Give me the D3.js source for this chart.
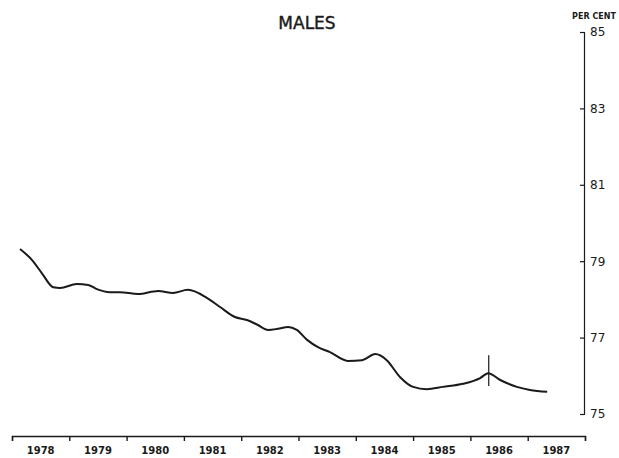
<!DOCTYPE html>
<html lang="en">
<head>
    <style>
        body { margin: 0; background: #fff; }
        svg { width: 619px; height: 458px; display: block; }
    </style>
</head>
<body>
    <svg></svg>
    <script src="https://cdn.jsdelivr.net/npm/d3@7"></script>
    <script>
        // Data (decimal year, per cent)
        const years = [1978, 1979, 1980, 1981, 1982, 1983, 1984, 1985, 1986, 1987];
        const times = [1978.14, 1978.35, 1978.52, 1978.72, 1978.84, 1979.13, 1979.33, 1979.48, 1979.71, 1979.88,
                       1980.20, 1980.55, 1980.81, 1981.07, 1981.40, 1981.63, 1981.89, 1982.10, 1982.29, 1982.47,
                       1982.64, 1982.82, 1982.97, 1983.15, 1983.34, 1983.55, 1983.86, 1984.11, 1984.34, 1984.54,
                       1984.77, 1985.00, 1985.24, 1985.52, 1985.87, 1986.17, 1986.31, 1986.52, 1986.81, 1987.04,
                       1987.34];
        const values = [79.32, 79.03, 78.69, 78.32, 78.30, 78.40, 78.38, 78.27, 78.19, 78.19,
                        78.14, 78.22, 78.17, 78.25, 78.04, 77.80, 77.54, 77.46, 77.33, 77.20,
                        77.23, 77.28, 77.20, 76.94, 76.75, 76.62, 76.39, 76.41, 76.57, 76.41,
                        75.97, 75.71, 75.65, 75.71, 75.79, 75.94, 76.07, 75.89, 75.71, 75.63,
                        75.58];
        const yTicks = [75, 77, 79, 81, 83, 85];
        // Break marker in 1986
        const markerTime = 1986.32;
        const markerRange = [75.73, 76.54];

        const svg = d3.select("svg");
        const ink = "#1a1a1a";

        const x = d3.scaleLinear().domain([1978, 1988]).range([12, 585]);
        const y = d3.scaleLinear().domain([75, 85]).range([414, 32]);

        // Title
        svg.append("text")
            .attr("x", 307).attr("y", 29)
            .attr("text-anchor", "middle")
            .attr("font-family", "DejaVu Sans")
            .attr("font-size", 17)
            .attr("fill", ink)
            .attr("stroke", ink)
            .attr("stroke-width", 0.4)
            .text("MALES");

        svg.append("text")
            .attr("x", 594).attr("y", 19)
            .attr("text-anchor", "middle")
            .attr("font-family", "DejaVu Sans")
            .attr("font-size", 8)
            .attr("font-weight", "bold")
            .attr("fill", ink)
            .text("PER CENT");

        // Y axis on the right, ticks pointing left
        const yAxis = svg.append("g")
            .attr("transform", `translate(${x(1988) - 1},0)`)
            .call(d3.axisRight(y).tickValues(yTicks).tickSize(-4).tickPadding(6).tickFormat(d3.format("d")));
        yAxis.selectAll("path, line").attr("stroke", ink).attr("stroke-width", 1.2);
        yAxis.selectAll("text")
            .attr("font-family", "DejaVu Sans")
            .attr("font-size", 12)
            .attr("fill", ink);

        // X axis with year bands
        const xAxis = svg.append("g")
            .attr("transform", "translate(0,436)")
            .call(d3.axisBottom(x).tickValues(d3.range(1978, 1989)).tickSize(5).tickFormat(""));
        xAxis.selectAll("path, line").attr("stroke", ink).attr("stroke-width", 1.4);
        xAxis.selectAll(".yr").data(years).enter()
            .append("text").attr("class", "yr")
            .attr("x", d => x(d + 0.5))
            .attr("y", 18)
            .attr("text-anchor", "middle")
            .attr("font-family", "DejaVu Sans")
            .attr("font-size", 10)
            .attr("font-weight", "bold")
            .attr("fill", ink)
            .text(d => d);

        // Series line
        const line = d3.line()
            .x(i => x(times[i]))
            .y(i => y(values[i]))
            .curve(d3.curveMonotoneX);
        svg.append("path")
            .attr("d", line(d3.range(times.length)))
            .attr("fill", "none")
            .attr("stroke", ink)
            .attr("stroke-width", 2);

        // Vertical marker
        svg.append("line")
            .attr("x1", x(markerTime)).attr("x2", x(markerTime))
            .attr("y1", y(markerRange[1])).attr("y2", y(markerRange[0]))
            .attr("stroke", ink)
            .attr("stroke-width", 1.2);
    </script>
</body>
</html>
